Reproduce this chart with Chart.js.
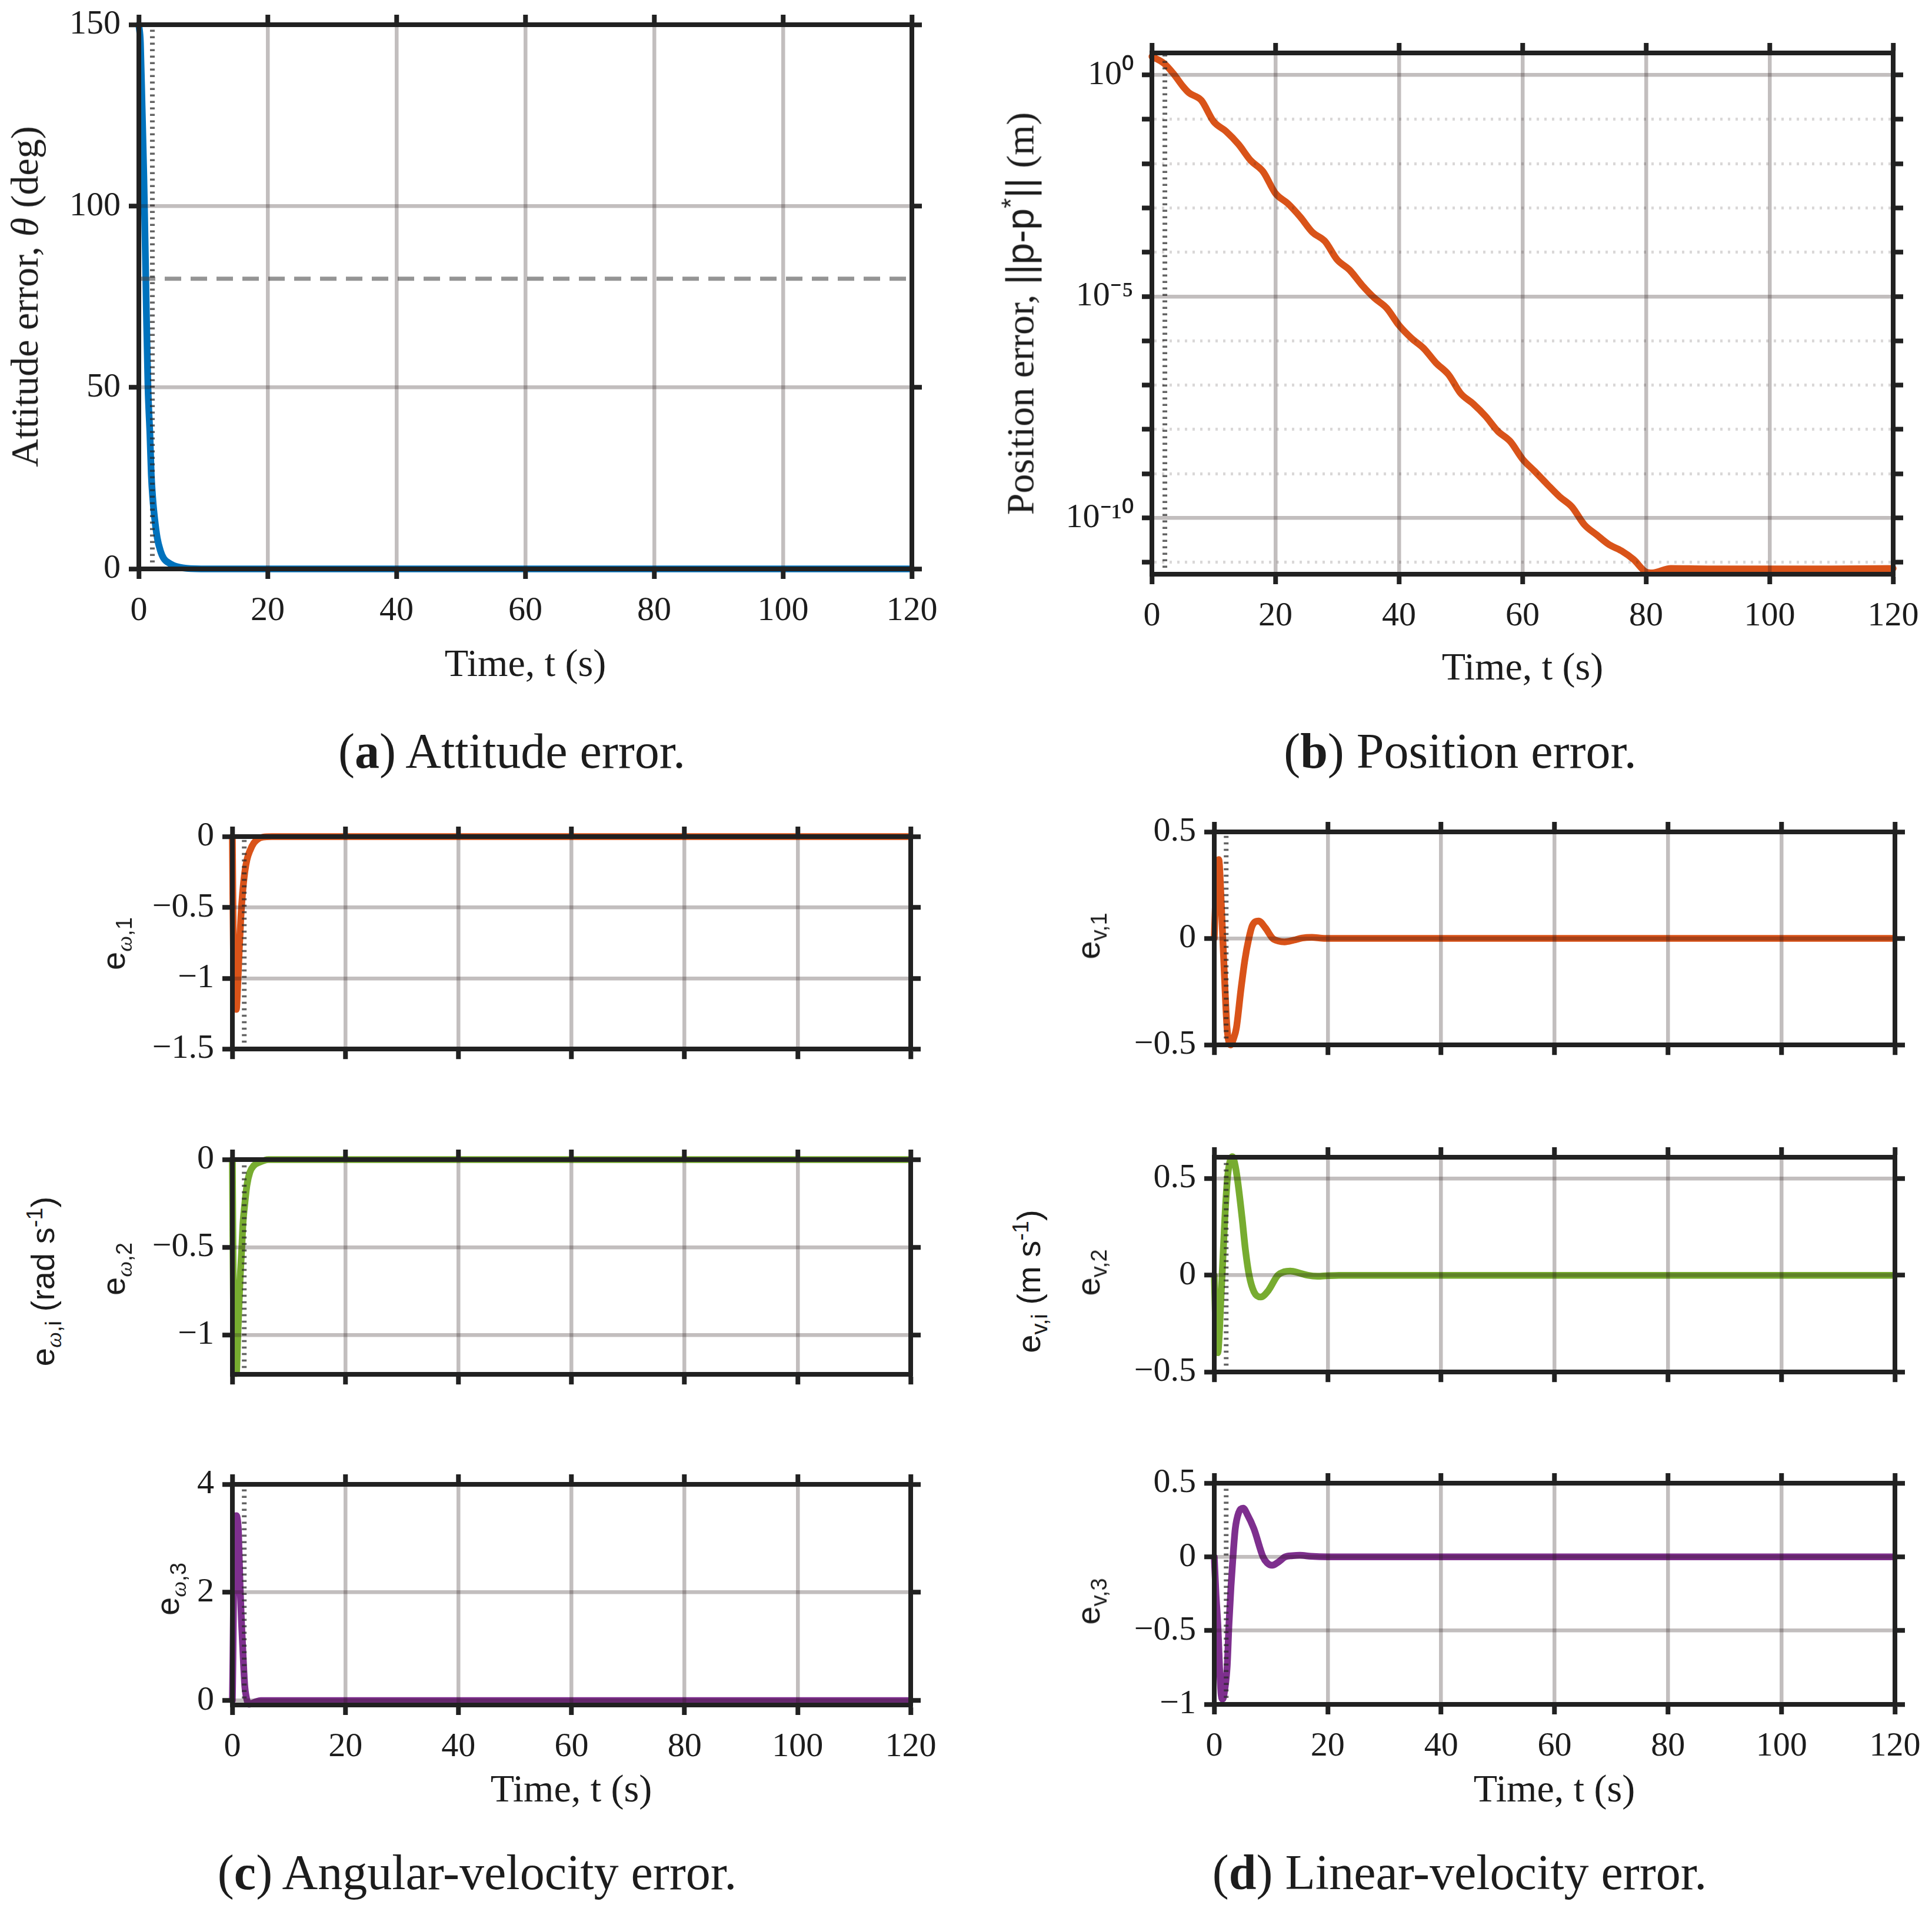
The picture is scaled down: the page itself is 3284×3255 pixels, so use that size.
<!DOCTYPE html>
<html>
<head>
<meta charset="utf-8">
<script src="https://cdn.jsdelivr.net/npm/chart.js@4.4.1/dist/chart.umd.min.js"></script>
<style>
  html, body { margin: 0; padding: 0; background: #fff; }
  #page { position: relative; width: 3284px; height: 3255px; overflow: hidden; }
  canvas { position: absolute; }
  .t { position: absolute; white-space: nowrap; line-height: 1; color: #1c1c1c;
       font-family: 'Liberation Serif', serif; transform: translate(-50%, -50%); z-index: 2; }
  .r { transform: translate(-50%, -50%) rotate(-90deg); }
  .ax { font-size: 66px; }
  .cap { font-size: 84px; }
  .lab { font-size: 56px; }
  .sf { font-family: 'Liberation Sans', sans-serif; }
  sub, sup { font-size: 68%; line-height: 0; }
</style>
</head>
<body>
<div id="page">
  <div class="t r ax" style="left:42px;top:504px">Attitude error, <i>θ</i> (deg)</div>
  <div class="t ax" style="left:893px;top:1127px">Time, t (s)</div>
  <div class="t cap" style="left:870px;top:1277px">(<b>a</b>) Attitude error.</div>

  <div class="t r ax" style="left:1734px;top:533px">Position error, <span class="sf">||p-p<sup>*</sup>||</span> (m)</div>
  <div class="t ax" style="left:2588px;top:1133px">Time, t (s)</div>
  <div class="t cap" style="left:2482px;top:1277px">(<b>b</b>) Position error.</div>

  <div class="t r lab" style="left:73px;top:2178px"><span class="sf">e</span><sub><i>ω</i><span class="sf">,i</span></sub><span class="sf"> (rad s<sup>-1</sup>)</span></div>
  <div class="t r lab" style="left:193px;top:1604px"><span class="sf">e</span><sub><i>ω</i><span class="sf">,1</span></sub></div>
  <div class="t r lab" style="left:193px;top:2157px"><span class="sf">e</span><sub><i>ω</i><span class="sf">,2</span></sub></div>
  <div class="t r lab" style="left:285px;top:2701px"><span class="sf">e</span><sub><i>ω</i><span class="sf">,3</span></sub></div>
  <div class="t ax" style="left:971px;top:3040px">Time, t (s)</div>
  <div class="t cap" style="left:811px;top:3183px">(<b>c</b>) Angular-velocity error.</div>

  <div class="t r lab" style="left:1749px;top:2178px"><span class="sf">e<sub>v,i</sub> (m s<sup>-1</sup>)</span></div>
  <div class="t r lab" style="left:1850px;top:1591px"><span class="sf">e<sub>v,1</sub></span></div>
  <div class="t r lab" style="left:1850px;top:2163px"><span class="sf">e<sub>v,2</sub></span></div>
  <div class="t r lab" style="left:1850px;top:2722px"><span class="sf">e<sub>v,3</sub></span></div>
  <div class="t ax" style="left:2642px;top:3040px">Time, t (s)</div>
  <div class="t cap" style="left:2481px;top:3183px">(<b>d</b>) Linear-velocity error.</div>
</div>

<script>
// values (time in s)
const tTicks = [0, 20, 40, 60, 80, 100, 120];
const T_MARK = 2.1;     // dotted vertical marker
const A_LIMIT = 80;     // dashed horizontal limit in (a)

const timeA = [0, 0.25, 0.5, 0.78, 0.87, 1.08, 1.2, 1.42, 1.72, 1.93, 2.18, 2.45, 2.86, 3.35, 3.86, 4.9, 5.8, 8, 12, 120];
const attErr = [150, 145, 128, 108, 100, 80, 68, 50, 37, 26, 19, 14, 8.5, 5, 2.9, 1.4, 0.7, 0.1, 0, 0];
const aTicks = [0, 50, 100, 150];

const timeB = [0, 2, 3.5, 5, 6, 8, 10, 12, 14, 16, 18, 20, 22, 24, 26, 28, 30, 32, 34, 36, 38, 40,
  42, 44, 46, 48, 50, 52, 54, 56, 58, 60, 62, 64, 66, 68, 70, 72, 74, 76, 78, 80, 81, 84, 90, 100, 110, 120];
// log10 of ||p - p*||
const posErrExp = [0.42, 0.26, 0.03, -0.25, -0.4, -0.57, -1.05, -1.27, -1.56, -1.93, -2.18, -2.67, -2.9,
  -3.2, -3.55, -3.75, -4.17, -4.4, -4.74, -5.03, -5.26, -5.65, -5.94, -6.17, -6.5, -6.76, -7.19, -7.42,
  -7.7, -8.04, -8.27, -8.67, -8.95, -9.24, -9.52, -9.75, -10.15, -10.38, -10.6, -10.74, -10.94, -11.22,
  -11.24, -11.14, -11.15, -11.15, -11.15, -11.14];
const bDecades = [0, -1, -2, -3, -4, -5, -6, -7, -8, -9, -10, -11];
const bMajorExp = [0, -5, -10];
const bMajorLabels = ['10\u2070', '10\u207B\u2075', '10\u207B\u00B9\u2070'];

const timeC1 = [0, 0.08, 0.18, 0.35, 0.55, 0.7, 0.95, 1.2, 1.5, 1.8, 2.2, 2.6, 3.1, 3.8, 4.6, 5.4, 7, 120];
const ew1 = [0, -0.4, -0.8, -1.08, -1.2, -1.22, -1.05, -0.82, -0.57, -0.4, -0.25, -0.16, -0.1, -0.045, -0.015, -0.004, 0, 0];
const timeC2 = [0, 0.08, 0.18, 0.35, 0.55, 0.7, 0.97, 1.35, 1.67, 1.875, 2.19, 2.57, 3.1, 3.8, 4.6, 6.4, 120];
const ew2 = [0, -0.4, -0.8, -1.08, -1.2, -1.22, -1.0, -0.69, -0.5, -0.364, -0.255, -0.147, -0.072, -0.034, -0.018, 0, 0];
const timeC3 = [0, 0.1, 0.2, 0.35, 0.5, 0.7, 0.9, 1.09, 1.37, 1.65, 1.99, 2.2, 2.43, 2.9, 3.5, 4.2, 5, 120];
const ew3 = [0, 0.8, 1.8, 2.8, 3.3, 3.42, 3.35, 3.1, 2.08, 1.36, 0.63, 0.26, 0.08, -0.07, -0.05, -0.02, 0, 0];
const c1Ticks = [-1.5, -1, -0.5, 0];
const c2Ticks = [-1, -0.5, 0];
const c3Ticks = [0, 2, 4];

const timeD1 = [0, 0.25, 0.5, 0.8, 1.1, 1.5, 1.9, 2.25, 2.9, 3.4, 3.9, 4.7, 5.4, 6.1, 6.7, 7.8, 9, 10.3, 11.3, 12.4, 14, 15.5, 17.2, 19, 21, 120];
const ev1 = [0, 0.2, 0.33, 0.37, 0.25, 0, -0.24, -0.42, -0.5, -0.47, -0.42, -0.24, -0.1, 0, 0.06, 0.082, 0.05, 0, -0.012, -0.016, -0.008, 0.002, 0.005, 0.001, 0, 0];
const timeD2 = [0, 0.3, 0.62, 0.9, 1.1, 1.38, 1.87, 2.3, 2.7, 3.2, 3.6, 4.1, 4.9, 5.5, 6.15, 7, 8.2, 9.5, 11.2, 12.3, 13.4, 15, 16.5, 18.2, 20, 22, 120];
const ev2 = [0, -0.3, -0.4, -0.3, -0.17, 0, 0.297, 0.493, 0.58, 0.613, 0.58, 0.493, 0.297, 0.13, 0, -0.085, -0.112, -0.08, 0, 0.018, 0.022, 0.012, 0, -0.005, -0.002, 0, 0];
const timeD3 = [0, 0.3, 0.66, 0.93, 1.2, 1.48, 1.85, 2.28, 2.6, 2.95, 3.3, 3.7, 4.3, 5.1, 5.8, 7.0, 8.6, 9.3, 10.2, 11.3, 12.5, 13.8, 15.1, 17, 20, 120];
const ev3 = [0, -0.25, -0.478, -0.743, -0.93, -0.964, -0.9, -0.74, -0.45, -0.2, 0, 0.19, 0.3, 0.33, 0.29, 0.19, 0, -0.04, -0.057, -0.035, 0, 0.008, 0.011, 0.004, 0, 0];
const d1Ticks = [-0.5, 0, 0.5];
const d2Ticks = [-0.5, 0, 0.5];
const d3Ticks = [-1, -0.5, 0, 0.5];

const BLUE = '#0072BD', ORANGE = '#D95319', GREEN = '#77AC30', PURPLE = '#7E2F8E';
const AXIS = '#212121';
const GRID = 'rgba(37,23,23,0.28)';
const GRID_MINOR = 'rgba(37,23,23,0.17)';
const TICK_FONT = { family: 'Liberation Serif', size: 58 };

Chart.defaults.font.family = 'Liberation Serif';
const page = document.getElementById('page');

function fmt(v) {
  return v < 0 ? '\u2212' + (-v) : String(v);
}

function pts(xs, ys) {
  return xs.map((x, i) => ({ x: x, y: ys[i] }));
}

function curve(xs, ys, color) {
  return {
    data: pts(xs, ys), borderColor: color, borderWidth: 11.5, pointRadius: 0,
    cubicInterpolationMode: 'monotone', borderCapStyle: 'round', borderJoinStyle: 'round',
    clip: 12, order: 2
  };
}

function marker(ymin, ymax) {
  return {
    data: [{ x: T_MARK, y: ymin }, { x: T_MARK, y: ymax }],
    borderColor: 'rgba(40,40,40,0.72)', borderWidth: 8, borderDash: [3.5, 7.5],
    pointRadius: 0, clip: 0, order: 0
  };
}

function axis(position, type, min, max, vals, opts) {
  const horiz = position === 'top' || position === 'bottom';
  const main = position === 'bottom' || position === 'left';
  const minor = ctx => !!(opts.isMinor && ctx.tick && opts.isMinor(ctx.tick.value));
  return {
    type: type, position: position, min: min, max: max,
    afterBuildTicks: s => { s.ticks = vals.map(v => ({ value: v })); },
    afterFit: s => { if (horiz) s.height = opts.size; else s.width = opts.size; },
    ticks: {
      display: !!opts.labels, font: TICK_FONT, color: '#1c1c1c',
      padding: horiz ? 20 : 14, maxRotation: 0, minRotation: 0, autoSkip: false,
      callback: opts.label || fmt
    },
    grid: {
      drawOnChartArea: main,
      color: ctx => minor(ctx) ? GRID_MINOR : GRID,
      lineWidth: ctx => minor(ctx) ? 5 : 6.5,
      tickColor: AXIS, tickWidth: 8, tickLength: 17, z: 1
    },
    border: { display: true, color: AXIS, width: 8, z: 2, dash: ctx => minor(ctx) ? [4, 9] : [] }
  };
}

function panel(rect, datasets, y, xLabels) {
  const YW = 230, TOP = 60, RIGHT = 90;
  const XH = xLabels ? 130 : 17;
  const BOT = xLabels ? 0 : 20;
  const L = Math.round(rect[0]), T = Math.round(rect[1]), R = Math.round(rect[2]), B = Math.round(rect[3]);
  const w = R - L + YW + RIGHT, h = B - T + TOP + XH + BOT;
  const cv = document.createElement('canvas');
  cv.width = w; cv.height = h;
  cv.style.width = w + 'px'; cv.style.height = h + 'px';
  cv.style.left = (L - YW) + 'px'; cv.style.top = (T - TOP) + 'px';
  page.appendChild(cv);

  new Chart(cv.getContext('2d'), {
    type: 'line',
    data: { datasets: datasets },
    options: {
      responsive: false, animation: false, events: [],
      plugins: { legend: { display: false }, tooltip: { enabled: false } },
      layout: { autoPadding: false, padding: { left: 0, top: TOP - 17, right: RIGHT - 17, bottom: BOT } },
      scales: {
        x: axis('bottom', 'linear', 0, 120, tTicks, { labels: xLabels, size: XH }),
        x2: axis('top', 'linear', 0, 120, tTicks, { size: 17 }),
        y: axis('left', y.type, y.min, y.max, y.ticks, { labels: true, size: YW, label: y.label, isMinor: y.isMinor }),
        y2: axis('right', y.type, y.min, y.max, y.ticks, { size: 17, isMinor: y.isMinor })
      }
    }
  });
}

// (a) attitude error
panel([236, 42, 1550, 967], [
  marker(0, 150),
  { data: [{ x: 0, y: A_LIMIT }, { x: 120, y: A_LIMIT }], borderColor: 'rgba(70,70,70,0.58)',
    borderWidth: 7, borderDash: [28, 16], pointRadius: 0, order: 1 },
  curve(timeA, attErr, BLUE)
], { type: 'linear', min: 0, max: 150, ticks: aTicks }, true);

// (b) position error, log scale
const bMin = Math.pow(10, -11.27), bMax = Math.pow(10, 0.5);
const expOf = v => Math.round(Math.log10(v));
panel([1958, 90, 3218, 976], [
  marker(bMin, bMax),
  curve(timeB, posErrExp.map(e => Math.pow(10, e)), ORANGE)
], {
  type: 'logarithmic', min: bMin, max: bMax,
  ticks: bDecades.map(e => Math.pow(10, e)),
  label: v => { const i = bMajorExp.indexOf(expOf(v)); return i >= 0 ? bMajorLabels[i] : ''; },
  isMinor: v => bMajorExp.indexOf(expOf(v)) < 0
}, true);

// (c) angular-velocity error
panel([395, 1422, 1548, 1795], [marker(-1.5, 0), curve(timeC1, ew1, ORANGE)],
  { type: 'linear', min: -1.5, max: 0, ticks: c1Ticks }, false);
panel([395, 1971, 1548, 2348], [marker(-1.225, 0), curve(timeC2, ew2, GREEN)],
  { type: 'linear', min: -1.225, max: 0, ticks: c2Ticks }, false);
panel([395, 2523, 1548, 2898], [marker(-0.083, 4), curve(timeC3, ew3, PURPLE)],
  { type: 'linear', min: -0.083, max: 4, ticks: c3Ticks }, true);

// (d) linear-velocity error
panel([2064, 1414, 3221, 1788], [marker(-0.5, 0.5), curve(timeD1, ev1, ORANGE)],
  { type: 'linear', min: -0.5, max: 0.5, ticks: d1Ticks }, false);
panel([2064, 1967, 3221, 2344], [marker(-0.5, 0.61), curve(timeD2, ev2, GREEN)],
  { type: 'linear', min: -0.5, max: 0.61, ticks: d2Ticks }, false);
panel([2064, 2521, 3221, 2897], [marker(-1, 0.5), curve(timeD3, ev3, PURPLE)],
  { type: 'linear', min: -1, max: 0.5, ticks: d3Ticks }, true);
</script>
</body>
</html>
